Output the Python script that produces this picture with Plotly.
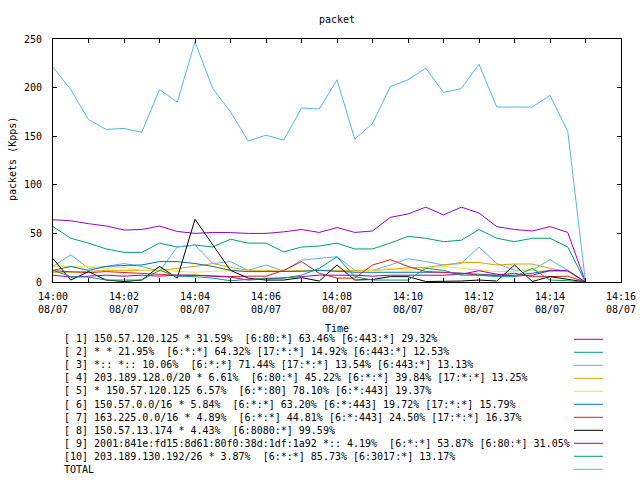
import plotly.graph_objects as go
import pandas as pd

times = [t.strftime("%Y-%m-%d %H:%M:%S") for t in pd.date_range("2023-08-07 14:00:00", "2023-08-07 14:15:00", freq="30s")]

s1 = [64, 63, 60, 57.6, 53.5, 54, 57.6, 52, 50, 51, 50.8, 50, 50, 51.6, 54, 51, 56, 51, 52.5, 66.5, 70, 77, 69, 77, 71, 57, 54, 52.5, 57, 51, 0]
s2 = [57, 45, 40, 34, 30.5, 30.5, 40, 36, 38, 36, 44, 40, 40, 31, 36, 37, 40, 34, 34, 40, 47, 45, 41.5, 43, 54, 45, 41.5, 45, 45, 36, 0]
s3 = [16, 28, 14, 16, 19, 16, 11, 36, 38, 19, 21, 12, 17.5, 11, 22.6, 24, 26, 12, 12, 17.5, 24, 21, 17.5, 19, 36, 19, 12, 12, 23, 12, 0]
s4 = [10, 10, 11, 12, 12, 12, 12, 14, 16, 19, 15, 12, 12, 11, 12, 12, 12, 12, 12, 13, 14.6, 15, 17.5, 20, 20, 17.5, 18.5, 18.5, 14, 10.7, 0]
s5 = [16, 16, 16, 14, 15, 12, 12, 11, 10, 11, 11.6, 11, 11, 11.6, 11, 12, 11, 11, 12, 14, 12, 14, 16, 14, 12, 10.7, 11, 12, 10.7, 10.7, 0]
s6 = [12, 16, 12, 16, 17, 17.5, 21, 21, 19, 16, 12, 10.7, 10.7, 10.7, 11, 12, 11, 10, 10, 10, 10, 10, 10, 9, 8, 7, 7, 9, 12, 11.6, 0]
s7 = [11.6, 10.7, 9.6, 10.7, 9.6, 9, 8, 7, 7, 6, 5.5, 6, 6, 12, 21, 9, 4, 4, 17.5, 23, 16, 10.7, 9.6, 9, 7, 7, 9, 5.5, 5.5, 6, 0]
s8 = [24, 2, 10.7, 2, 0.5, 2, 16, 4, 64.5, 38, 12, 4, 2, 2, 4.5, 1, 17.5, 2, 2.6, 5.5, 5.5, 0.5, 0.5, 1, 2, 1, 17.5, 0.5, 5.5, 2.6, 0]
s9 = [7, 5, 6, 7, 6, 7, 6, 7, 7, 6, 5, 2, 3, 4.5, 5.5, 7, 7, 7, 6, 7, 7, 7, 7, 8, 11.6, 8, 6, 7, 11.6, 11.6, 0]
s10 = [12, 5.5, 5, 2, 2, 2, 12, 6, 5.5, 4, 1.3, 2.6, 4, 4, 7, 14, 26, 5.5, 2, 2, 2, 14, 12, 7, 7, 5.5, 5.5, 14, 2, 1.3, 0]
total = [221, 198, 167, 157, 158, 154, 198, 185, 247, 199, 175, 145, 151, 146, 179, 178, 208, 147, 163, 201, 208, 220, 195, 199, 224, 180, 180, 180, 192, 155, 0]

series = [s1, s2, s3, s4, s5, s6, s7, s8, s9, s10, total]
labels = [
    "[ 1] 150.57.120.125 * 31.59%  [6:80:*] 63.46% [6:443:*] 29.32%",
    "[ 2] * * 21.95%  [6:*:*] 64.32% [17:*:*] 14.92% [6:443:*] 12.53%",
    "[ 3] *:: *:: 10.06%  [6:*:*] 71.44% [17:*:*] 13.54% [6:443:*] 13.13%",
    "[ 4] 203.189.128.0/20 * 6.61%  [6:80:*] 45.22% [6:*:*] 39.84% [17:*:*] 13.25%",
    "[ 5] * 150.57.120.125 6.57%  [6:*:80] 78.10% [6:*:443] 19.37%",
    "[ 6] 150.57.0.0/16 * 5.84%  [6:*:*] 63.20% [6:*:443] 19.72% [17:*:*] 15.79%",
    "[ 7] 163.225.0.0/16 * 4.89%  [6:*:*] 44.81% [6:*:443] 24.50% [17:*:*] 16.37%",
    "[ 8] 150.57.13.174 * 4.43%  [6:8080:*] 99.59%",
    "[ 9] 2001:841e:fd15:8d61:80f0:38d:1df:1a92 *:: 4.19%  [6:*:*] 53.87% [6:80:*] 31.05%",
    "[10] 203.189.130.192/26 * 3.87%  [6:*:*] 85.73% [6:3017:*] 13.17%",
    "TOTAL",
]
colors = ["#9400d3", "#009e73", "#56b4e9", "#e69f00", "#f0e442", "#0072b2",
          "#e51e10", "#000000", "#9400d3", "#009e73", "#56b4e9"]

tick_minutes = ["2023-08-07 14:%02d:00" % m for m in range(0, 17)]
tick_text = [("14:%02d<br>08/07" % m) if m % 2 == 0 else "" for m in range(0, 17)]

FONT = "DejaVu Sans Mono"
L, R, T, B = 53, 19, 39, 198
PW, PH = 640 - L - R, 480 - T - B

def px(x):
    return (x - L) / PW

def py(y):
    return (480 - B - y) / PH

fig = go.Figure()
for s, lab, c in zip(series, labels, colors):
    fig.add_trace(go.Scatter(x=times, y=s, mode="lines", name=lab,
                             line=dict(color=c, width=1), showlegend=False,
                             hoverinfo="skip"))

annotations = []
shapes = []
for i, (lab, c) in enumerate(zip(labels, colors)):
    yy = 338.5 + 13.1 * i
    annotations.append(dict(x=px(63), y=py(yy), xref="paper", yref="paper",
                            text=lab.replace(" ", "\u00a0"), showarrow=False,
                            xanchor="left", yanchor="middle", borderpad=0,
                            font=dict(family=FONT, size=10, color="black")))
    ly = py(339.3 + 13 * i)
    shapes.append(dict(type="line", xref="paper", yref="paper",
                       x0=px(574), x1=px(603), y0=ly, y1=ly,
                       line=dict(color=c, width=1)))

annotations.append(dict(x=px(337), y=py(328), xref="paper", yref="paper",
                        text="Time", showarrow=False, xanchor="center", yanchor="middle",
                        font=dict(family=FONT, size=10, color="black")))
annotations.append(dict(x=px(12), y=py(159), xref="paper", yref="paper",
                        text="packets (Kpps)", showarrow=False, textangle=-90,
                        xanchor="center", yanchor="middle",
                        font=dict(family=FONT, size=10, color="black")))

axis_common = dict(showgrid=False, zeroline=False, showline=True, linecolor="black",
                   linewidth=1, mirror="allticks", ticks="inside", ticklen=4,
                   tickcolor="black", tickwidth=1, automargin=False,
                   tickfont=dict(family=FONT, size=10, color="black"))

fig.update_layout(
    width=640, height=480, autosize=False,
    margin=dict(l=L, r=R, t=T, b=B),
    paper_bgcolor="white", plot_bgcolor="white",
    title=dict(text="packet", x=px(337), xref="paper", xanchor="center",
               y=1 - 19 / 480, yanchor="middle",
               font=dict(family=FONT, size=10, color="black")),
    xaxis=dict(type="date", range=["2023-08-07 14:00:00", "2023-08-07 14:16:00"],
               tickmode="array", tickvals=tick_minutes, ticktext=tick_text,
               ticklabelstandoff=5, **axis_common),
    yaxis=dict(range=[0, 250], tickmode="array", tickvals=[0, 50, 100, 150, 200, 250],
               ticktext=["0", "50", "100", "150", "200", "250"], ticklabelstandoff=8,
               **axis_common),
    annotations=annotations, shapes=shapes,
    showlegend=False,
)

fig.write_html("out.html", config={"displayModeBar": False},
               post_script="document.body.style.margin='0';document.body.style.padding='0';document.body.style.overflow='hidden';")
